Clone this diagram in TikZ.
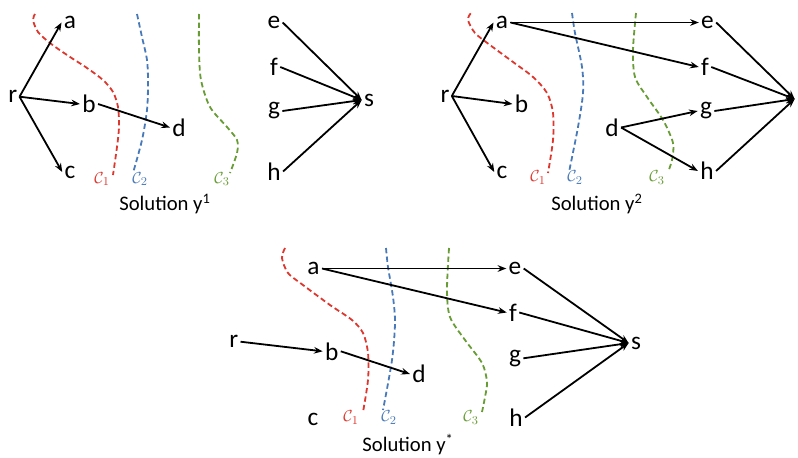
\documentclass[tikz,border=0pt]{standalone}
\usepackage{fontspec}
\setmainfont{Carlito}
\usetikzlibrary{arrows.meta}
\definecolor{cred}{RGB}{222,55,45}
\definecolor{cblue}{RGB}{72,122,186}
\definecolor{cgreen}{RGB}{104,156,52}
\tikzset{
  lbl/.style={font=\fontsize{19}{22}\selectfont, inner sep=1.6pt},
  arr/.style={-{Stealth[length=6.5pt,width=5pt]}, line width=1.35pt},
  cut/.style={dash pattern=on 4pt off 2.4pt, line width=1.35pt},
  clbl/.style={font=\fontsize{13}{15}\selectfont, inner sep=0pt},
  sol/.style={font=\fontsize{15.5}{18}\selectfont, anchor=base, inner sep=0pt},
}
\begin{document}
\begin{tikzpicture}[x=0.75pt,y=-0.75pt]
\useasboundingbox (0,0) rectangle (798,457);
% ---------- Panel 1 ----------
\draw[cut,cred] plot[smooth] coordinates {(35,14) (33,20) (38,32) (50,43) (67,55) (87,68) (103,80) (113,92) (118,107) (119,127) (117,147) (113,175)};
\draw[cut,cblue] plot[smooth] coordinates {(137,14) (142,37) (147,60) (148,83) (147,110) (142,140) (133,173)};
\draw[cut,cgreen] plot[smooth] coordinates {(199,14) (199,50) (201,80) (210,107) (227,127) (237,140) (237,153) (230,173)};
\node[clbl,text=cred] (k11) at (102,179) {$\mathcal{C}_1$};
\node[clbl,text=cblue] (k12) at (140,179) {$\mathcal{C}_2$};
\node[clbl,text=cgreen] (k13) at (222,179) {$\mathcal{C}_3$};
\node[lbl] (r1) at (12.7,96.7) {r};
\node[lbl] (a1) at (70,22.5) {a};
\node[lbl] (b1) at (89,104) {b};
\node[lbl] (c1) at (70,172) {c};
\node[lbl] (d1) at (179,127.5) {d};
\node[lbl] (e1) at (274,22.5) {e};
\node[lbl] (f1) at (274,67) {f};
\node[lbl] (g1) at (274,111) {g};
\node[lbl] (h1) at (274,171.5) {h};
\node[lbl] (s1) at (369,100) {s};
\draw[arr] (r1.east) -- (a1.west);
\draw[arr] (r1.east) -- (b1.west);
\draw[arr] (r1.east) -- (c1.west);
\draw[arr] (b1.east) -- (d1.west);
\draw[arr] (e1.east) -- (s1.west);
\draw[arr] (f1.east) -- (s1.west);
\draw[arr] (g1.east) -- (s1.west);
\draw[arr] (h1.east) -- (s1.west);
\node[sol] (t1) at (165,210) {Solution y\textsuperscript{1}};
% ---------- Panel 2 ----------
\draw[cut,cred] plot[smooth] coordinates {(470.7,13.3) (468,20) (475,33) (490,45) (513,62) (533,77) (547,93) (553,113) (553,140) (548,173)};
\draw[cut,cblue] plot[smooth] coordinates {(572,13) (575,33) (582,67) (583,93) (578,127) (569,172)};
\draw[cut,cgreen] plot[smooth] coordinates {(636,13) (633,50) (635,77) (647,97) (663,120) (673,143) (672,160) (668,172)};
\node[clbl,text=cred] (k21) at (538,177.5) {$\mathcal{C}_1$};
\node[clbl,text=cblue] (k22) at (575,177.5) {$\mathcal{C}_2$};
\node[clbl,text=cgreen] (k23) at (657,177.5) {$\mathcal{C}_3$};
\node[lbl] (r2) at (445,96) {r};
\node[lbl] (a2) at (502,22.5) {a};
\node[lbl] (b2) at (521.5,104) {b};
\node[lbl] (c2) at (502,172) {c};
\node[lbl] (d2) at (612,127.5) {d};
\node[lbl] (e2) at (707.5,22.5) {e};
\node[lbl] (f2) at (705,67) {f};
\node[lbl] (g2) at (706,111) {g};
\node[lbl] (h2) at (707,171) {h};
\node[lbl] (s2) at (802,99) {s};
\draw[arr] (r2.east) -- (a2.west);
\draw[arr] (r2.east) -- (b2.west);
\draw[arr] (r2.east) -- (c2.west);
\draw[arr] (a2.east) -- (e2.west);
\draw[arr] (a2.east) -- (f2.west);
\draw[arr] (d2.east) -- (g2.west);
\draw[arr] (d2.east) -- (h2.west);
\draw[arr] (e2.east) -- (s2.west);
\draw[arr] (f2.east) -- (s2.west);
\draw[arr] (g2.east) -- (s2.west);
\draw[arr] (h2.east) -- (s2.west);
\node[sol] (t2) at (597,210) {Solution y\textsuperscript{2}};
% ---------- Panel 3 ----------
\draw[cut,cred] plot[smooth] coordinates {(285,248) (282,258) (288,273) (303,285) (330,305) (352,320) (363,333) (368,353) (368,380) (363,412)};
\draw[cut,cblue] plot[smooth] coordinates {(386,248) (388,267) (393,297) (395,323) (392,360) (383,410)};
\draw[cut,cgreen] plot[smooth] coordinates {(449,248) (447,290) (450,317) (465,340) (482,363) (487,382) (485,397) (482,412)};
\node[clbl,text=cred] (k31) at (351,417.5) {$\mathcal{C}_1$};
\node[clbl,text=cblue] (k32) at (389,417.5) {$\mathcal{C}_2$};
\node[clbl,text=cgreen] (k33) at (471,417.5) {$\mathcal{C}_3$};
\node[lbl] (r3) at (233.7,341.7) {r};
\node[lbl] (a3) at (313.5,268.5) {a};
\node[lbl] (b3) at (331.7,351.3) {b};
\node[lbl] (c3) at (313,419) {c};
\node[lbl] (d3) at (419,374) {d};
\node[lbl] (e3) at (515,268.5) {e};
\node[lbl] (f3) at (513,312.5) {f};
\node[lbl] (g3) at (515,358.3) {g};
\node[lbl] (h3) at (516,417.5) {h};
\node[lbl] (s3) at (636,343) {s};
\draw[arr] (a3.east) -- (e3.west);
\draw[arr] (a3.east) -- (f3.west);
\draw[arr] (r3.east) -- (b3.west);
\draw[arr] (b3.east) -- (d3.west);
\draw[arr] (e3.east) -- (s3.west);
\draw[arr] (f3.east) -- (s3.west);
\draw[arr] (g3.east) -- (s3.west);
\draw[arr] (h3.east) -- (s3.west);
\node[sol] (t3) at (408,451.5) {Solution y\textsuperscript{*}};
\end{tikzpicture}
\end{document}
